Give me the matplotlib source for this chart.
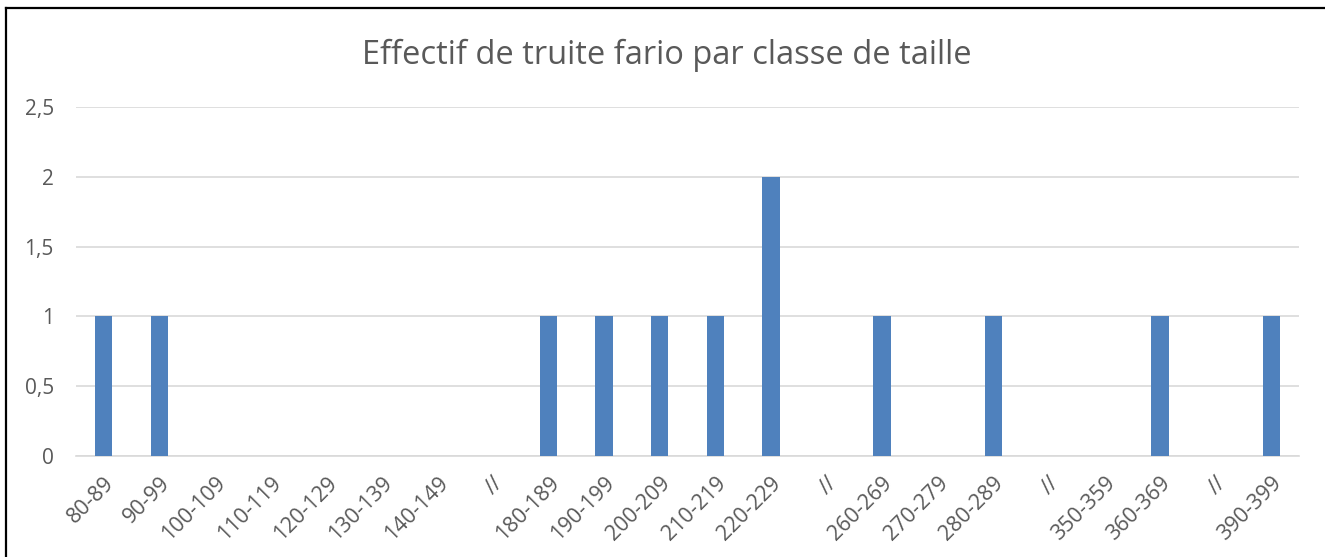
import matplotlib
matplotlib.use("Agg")
import matplotlib.pyplot as plt
from matplotlib.lines import Line2D

# Data
classes = ["80-89", "90-99", "100-109", "110-119", "120-129", "130-139", "140-149", "//",
           "180-189", "190-199", "200-209", "210-219", "220-229", "//",
           "260-269", "270-279", "280-289", "//", "350-359", "360-369", "//", "390-399"]
effectifs = [1, 1, 0, 0, 0, 0, 0, 0,
             1, 1, 1, 1, 2, 0,
             1, 0, 1, 0, 0, 1, 0, 1]
yticks = [0, 0.5, 1, 1.5, 2, 2.5]
ytick_labels = ["0", "0,5", "1", "1,5", "2", "2,5"]

BAR_COLOR = "#4F81BD"
GRID_COLOR = "#D9D9D9"
TEXT_COLOR = "#595959"

plt.rcParams["font.family"] = ["Open Sans", "DejaVu Sans"]

fig = plt.figure(figsize=(13.25, 5.57), dpi=100)
ax = fig.add_axes([76 / 1325, 1 - 456 / 557, (1299 - 76) / 1325, (456 - 107) / 557])

x = list(range(len(classes)))
ax.bar(x, effectifs, width=0.31, color=BAR_COLOR, zorder=3)

ax.set_xlim(-0.5, len(classes) - 0.5)
ax.set_ylim(0, 2.5)
ax.set_yticks(yticks)
ax.set_yticklabels(ytick_labels, fontsize=15, color=TEXT_COLOR)
ax.set_xticks(x)
ax.set_xticklabels(classes, rotation=45, ha="right", rotation_mode="anchor",
                   fontsize=15.5, color=TEXT_COLOR)

ax.grid(axis="y", color=GRID_COLOR, linewidth=1.2, zorder=0)
ax.tick_params(axis="both", length=0)
ax.tick_params(axis="y", pad=16)
ax.tick_params(axis="x", pad=12)
for side in ["top", "right", "left"]:
    ax.spines[side].set_visible(False)
ax.spines["bottom"].set_color(GRID_COLOR)
ax.spines["bottom"].set_linewidth(1.2)

fig.text(667 / 1325, 1 - 55 / 557, "Effectif de truite fario par classe de taille",
         ha="center", va="center", fontsize=23.5, color=TEXT_COLOR)

# outer frame (left and top edges only, as in the screenshot)
fig.add_artist(Line2D([6 / 1325, 6 / 1325], [0, 1 - 8 / 557],
                      transform=fig.transFigure, color="black", linewidth=1.6))
fig.add_artist(Line2D([6 / 1325, 1], [1 - 8 / 557, 1 - 8 / 557],
                      transform=fig.transFigure, color="black", linewidth=1.6))

fig.savefig("out.png", dpi=100)
